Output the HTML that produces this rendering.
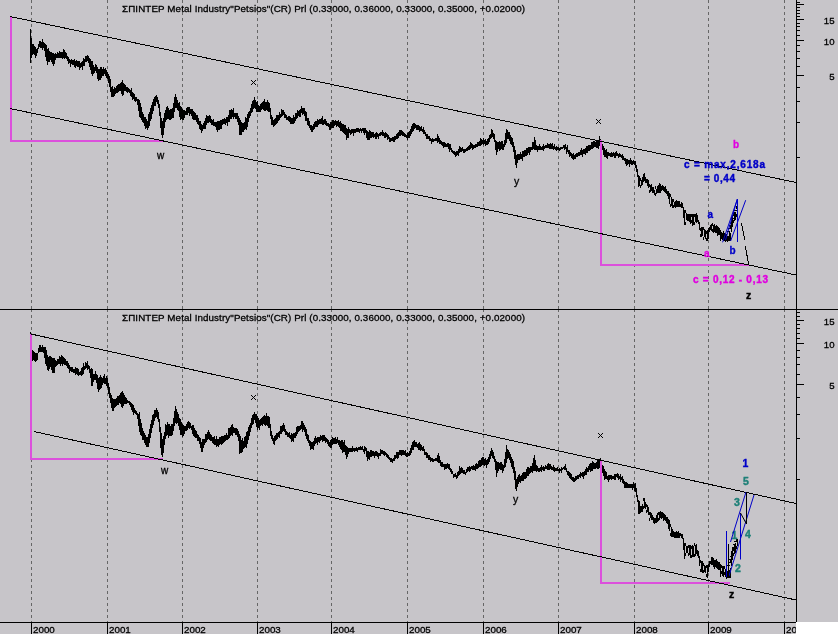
<!DOCTYPE html><html><head><meta charset="utf-8"><style>html,body{margin:0;padding:0;background:#c7c5c9;}svg{display:block;will-change:transform}text{font-family:"Liberation Sans",sans-serif} .t{stroke:#000;stroke-width:0.3}</style></head><body>
<svg width="838" height="634" viewBox="0 0 838 634">
<defs><clipPath id="axclip"><rect x="0" y="600" width="796" height="40"/></clipPath></defs>
<rect x="0" y="0" width="838" height="634" fill="#c7c5c9"/>
<rect x="796" y="622" width="42" height="12" fill="#ffffff"/>
<line x1="31.5" y1="0" x2="31.5" y2="309" stroke="#666" stroke-width="1" stroke-dasharray="3 3" shape-rendering="crispEdges"/>
<line x1="31.5" y1="309" x2="31.5" y2="622" stroke="#666" stroke-width="1" stroke-dasharray="3 3" shape-rendering="crispEdges"/>
<line x1="107.5" y1="0" x2="107.5" y2="309" stroke="#666" stroke-width="1" stroke-dasharray="3 3" shape-rendering="crispEdges"/>
<line x1="107.5" y1="309" x2="107.5" y2="622" stroke="#666" stroke-width="1" stroke-dasharray="3 3" shape-rendering="crispEdges"/>
<line x1="182.5" y1="0" x2="182.5" y2="309" stroke="#666" stroke-width="1" stroke-dasharray="3 3" shape-rendering="crispEdges"/>
<line x1="182.5" y1="309" x2="182.5" y2="622" stroke="#666" stroke-width="1" stroke-dasharray="3 3" shape-rendering="crispEdges"/>
<line x1="257.5" y1="0" x2="257.5" y2="309" stroke="#666" stroke-width="1" stroke-dasharray="3 3" shape-rendering="crispEdges"/>
<line x1="257.5" y1="309" x2="257.5" y2="622" stroke="#666" stroke-width="1" stroke-dasharray="3 3" shape-rendering="crispEdges"/>
<line x1="331.5" y1="0" x2="331.5" y2="309" stroke="#666" stroke-width="1" stroke-dasharray="3 3" shape-rendering="crispEdges"/>
<line x1="331.5" y1="309" x2="331.5" y2="622" stroke="#666" stroke-width="1" stroke-dasharray="3 3" shape-rendering="crispEdges"/>
<line x1="407.5" y1="0" x2="407.5" y2="309" stroke="#666" stroke-width="1" stroke-dasharray="3 3" shape-rendering="crispEdges"/>
<line x1="407.5" y1="309" x2="407.5" y2="622" stroke="#666" stroke-width="1" stroke-dasharray="3 3" shape-rendering="crispEdges"/>
<line x1="483.5" y1="0" x2="483.5" y2="309" stroke="#666" stroke-width="1" stroke-dasharray="3 3" shape-rendering="crispEdges"/>
<line x1="483.5" y1="309" x2="483.5" y2="622" stroke="#666" stroke-width="1" stroke-dasharray="3 3" shape-rendering="crispEdges"/>
<line x1="558.5" y1="0" x2="558.5" y2="309" stroke="#666" stroke-width="1" stroke-dasharray="3 3" shape-rendering="crispEdges"/>
<line x1="558.5" y1="309" x2="558.5" y2="622" stroke="#666" stroke-width="1" stroke-dasharray="3 3" shape-rendering="crispEdges"/>
<line x1="634.5" y1="0" x2="634.5" y2="309" stroke="#666" stroke-width="1" stroke-dasharray="3 3" shape-rendering="crispEdges"/>
<line x1="634.5" y1="309" x2="634.5" y2="622" stroke="#666" stroke-width="1" stroke-dasharray="3 3" shape-rendering="crispEdges"/>
<line x1="708.5" y1="0" x2="708.5" y2="309" stroke="#666" stroke-width="1" stroke-dasharray="3 3" shape-rendering="crispEdges"/>
<line x1="708.5" y1="309" x2="708.5" y2="622" stroke="#666" stroke-width="1" stroke-dasharray="3 3" shape-rendering="crispEdges"/>
<line x1="784.5" y1="0" x2="784.5" y2="309" stroke="#666" stroke-width="1" stroke-dasharray="3 3" shape-rendering="crispEdges"/>
<line x1="784.5" y1="309" x2="784.5" y2="622" stroke="#666" stroke-width="1" stroke-dasharray="3 3" shape-rendering="crispEdges"/>
<g shape-rendering="crispEdges" stroke="#000" stroke-width="1">
<line x1="0" y1="309.5" x2="838" y2="309.5"/>
<line x1="796.5" y1="0" x2="796.5" y2="622"/>
<line x1="0" y1="622.5" x2="796" y2="622.5"/>
<line x1="31.5" y1="622" x2="31.5" y2="634"/>
<line x1="107.5" y1="622" x2="107.5" y2="634"/>
<line x1="182.5" y1="622" x2="182.5" y2="634"/>
<line x1="257.5" y1="622" x2="257.5" y2="634"/>
<line x1="331.5" y1="622" x2="331.5" y2="634"/>
<line x1="407.5" y1="622" x2="407.5" y2="634"/>
<line x1="483.5" y1="622" x2="483.5" y2="634"/>
<line x1="558.5" y1="622" x2="558.5" y2="634"/>
<line x1="634.5" y1="622" x2="634.5" y2="634"/>
<line x1="708.5" y1="622" x2="708.5" y2="634"/>
<line x1="784.5" y1="622" x2="784.5" y2="634"/>
<line x1="797" y1="157.5" x2="800" y2="157.5"/>
<line x1="797" y1="122.5" x2="800" y2="122.5"/>
<line x1="797" y1="101.5" x2="800" y2="101.5"/>
<line x1="797" y1="87.5" x2="800" y2="87.5"/>
<line x1="797" y1="75.5" x2="804" y2="75.5"/>
<line x1="797" y1="66.5" x2="800" y2="66.5"/>
<line x1="797" y1="58.5" x2="800" y2="58.5"/>
<line x1="797" y1="51.5" x2="800" y2="51.5"/>
<line x1="797" y1="45.5" x2="800" y2="45.5"/>
<line x1="797" y1="40.5" x2="804" y2="40.5"/>
<line x1="797" y1="35.5" x2="800" y2="35.5"/>
<line x1="797" y1="30.5" x2="800" y2="30.5"/>
<line x1="797" y1="26.5" x2="800" y2="26.5"/>
<line x1="797" y1="23.5" x2="800" y2="23.5"/>
<line x1="797" y1="19.5" x2="804" y2="19.5"/>
<line x1="797" y1="16.5" x2="800" y2="16.5"/>
<line x1="797" y1="13.5" x2="800" y2="13.5"/>
<line x1="797" y1="10.5" x2="800" y2="10.5"/>
<line x1="797" y1="7.5" x2="800" y2="7.5"/>
<line x1="797" y1="4.5" x2="804" y2="4.5"/>
<line x1="797" y1="2.5" x2="800" y2="2.5"/>
<line x1="797" y1="479.5" x2="800" y2="479.5"/>
<line x1="797" y1="438.5" x2="800" y2="438.5"/>
<line x1="797" y1="414.5" x2="800" y2="414.5"/>
<line x1="797" y1="397.5" x2="800" y2="397.5"/>
<line x1="797" y1="384.5" x2="804" y2="384.5"/>
<line x1="797" y1="374.5" x2="800" y2="374.5"/>
<line x1="797" y1="364.5" x2="800" y2="364.5"/>
<line x1="797" y1="357.5" x2="800" y2="357.5"/>
<line x1="797" y1="350.5" x2="800" y2="350.5"/>
<line x1="797" y1="343.5" x2="804" y2="343.5"/>
<line x1="797" y1="338.5" x2="800" y2="338.5"/>
<line x1="797" y1="333.5" x2="800" y2="333.5"/>
<line x1="797" y1="328.5" x2="800" y2="328.5"/>
<line x1="797" y1="324.5" x2="800" y2="324.5"/>
<line x1="797" y1="320.5" x2="804" y2="320.5"/>
<line x1="797" y1="316.5" x2="800" y2="316.5"/>
<line x1="797" y1="312.5" x2="800" y2="312.5"/>
</g>
<text x="33" y="632.6" font-size="9.8" fill="#000" class="t" clip-path="url(#axclip)">2000</text>
<text x="109" y="632.6" font-size="9.8" fill="#000" class="t" clip-path="url(#axclip)">2001</text>
<text x="184" y="632.6" font-size="9.8" fill="#000" class="t" clip-path="url(#axclip)">2002</text>
<text x="259" y="632.6" font-size="9.8" fill="#000" class="t" clip-path="url(#axclip)">2003</text>
<text x="333" y="632.6" font-size="9.8" fill="#000" class="t" clip-path="url(#axclip)">2004</text>
<text x="409" y="632.6" font-size="9.8" fill="#000" class="t" clip-path="url(#axclip)">2005</text>
<text x="485" y="632.6" font-size="9.8" fill="#000" class="t" clip-path="url(#axclip)">2006</text>
<text x="560" y="632.6" font-size="9.8" fill="#000" class="t" clip-path="url(#axclip)">2007</text>
<text x="636" y="632.6" font-size="9.8" fill="#000" class="t" clip-path="url(#axclip)">2008</text>
<text x="710" y="632.6" font-size="9.8" fill="#000" class="t" clip-path="url(#axclip)">2009</text>
<text x="786" y="632.6" font-size="9.8" fill="#000" class="t" clip-path="url(#axclip)">20</text>
<text x="834.5" y="24" font-size="9.6" text-anchor="end" fill="#000" class="t">15</text>
<text x="834.5" y="45" font-size="9.6" text-anchor="end" fill="#000" class="t">10</text>
<text x="834.5" y="80" font-size="9.6" text-anchor="end" fill="#000" class="t">5</text>
<text x="834.5" y="325" font-size="9.6" text-anchor="end" fill="#000" class="t">15</text>
<text x="834.5" y="348" font-size="9.6" text-anchor="end" fill="#000" class="t">10</text>
<text x="834.5" y="389" font-size="9.6" text-anchor="end" fill="#000" class="t">5</text>
<text x="122" y="12" font-size="9.8" fill="#000" class="t" textLength="403" lengthAdjust="spacing">ΣΠΙΝΤΕΡ Metal Industry&quot;Petsios&quot;(CR) Prl (0.33000, 0.36000, 0.33000, 0.35000, +0.02000)</text>
<text x="122" y="321" font-size="9.8" fill="#000" class="t" textLength="403" lengthAdjust="spacing">ΣΠΙΝΤΕΡ Metal Industry&quot;Petsios&quot;(CR) Prl (0.33000, 0.36000, 0.33000, 0.35000, +0.02000)</text>
<path d="M30,29h1V63h-1ZM31,38h1V58h-1ZM32,44h1V55h-1ZM33,44h1V54h-1ZM34,46h1V55h-1ZM35,47h1V58h-1ZM36,49h1V56h-1ZM37,48h1V53h-1ZM38,44h1V49h-1ZM39,41h1V47h-1ZM40,41h1V48h-1ZM41,42h1V48h-1ZM42,39h1V50h-1ZM43,42h1V48h-1ZM44,43h1V51h-1ZM45,44h1V57h-1ZM46,45h1V61h-1ZM47,49h1V65h-1ZM48,48h1V62h-1ZM49,51h1V62h-1ZM50,52h1V60h-1ZM51,52h1V62h-1ZM52,53h1V64h-1ZM53,53h1V66h-1ZM54,54h1V64h-1ZM55,53h1V60h-1ZM56,54h1V58h-1ZM57,52h1V58h-1ZM58,53h1V58h-1ZM59,51h1V58h-1ZM60,52h1V58h-1ZM61,52h1V58h-1ZM62,52h1V59h-1ZM63,49h1V58h-1ZM64,50h1V59h-1ZM65,52h1V58h-1ZM66,53h1V59h-1ZM67,56h1V61h-1ZM68,57h1V64h-1ZM69,59h1V63h-1ZM70,60h1V67h-1ZM71,59h1V64h-1ZM72,60h1V65h-1ZM73,60h1V65h-1ZM74,59h1V67h-1ZM75,61h1V68h-1ZM76,60h1V66h-1ZM77,61h1V67h-1ZM78,61h1V67h-1ZM79,61h1V70h-1ZM80,63h1V68h-1ZM81,62h1V67h-1ZM82,61h1V70h-1ZM83,58h1V66h-1ZM84,59h1V66h-1ZM85,56h1V62h-1ZM86,56h1V62h-1ZM87,55h1V61h-1ZM88,56h1V63h-1ZM89,58h1V67h-1ZM90,59h1V70h-1ZM91,61h1V74h-1ZM92,61h1V76h-1ZM93,65h1V74h-1ZM94,67h1V73h-1ZM95,64h1V71h-1ZM96,65h1V73h-1ZM97,67h1V79h-1ZM98,69h1V81h-1ZM99,69h1V80h-1ZM100,67h1V80h-1ZM101,67h1V78h-1ZM102,69h1V76h-1ZM103,67h1V76h-1ZM104,69h1V74h-1ZM105,68h1V76h-1ZM106,70h1V78h-1ZM107,72h1V79h-1ZM108,74h1V83h-1ZM109,76h1V87h-1ZM110,79h1V92h-1ZM111,87h1V97h-1ZM112,86h1V97h-1ZM113,89h1V97h-1ZM114,87h1V96h-1ZM115,88h1V94h-1ZM116,86h1V93h-1ZM117,85h1V93h-1ZM118,84h1V92h-1ZM119,84h1V91h-1ZM120,83h1V91h-1ZM121,82h1V94h-1ZM122,80h1V96h-1ZM123,83h1V95h-1ZM124,84h1V91h-1ZM125,85h1V91h-1ZM126,87h1V92h-1ZM127,87h1V93h-1ZM128,88h1V92h-1ZM129,89h1V93h-1ZM130,90h1V96h-1ZM131,88h1V97h-1ZM132,92h1V100h-1ZM133,93h1V99h-1ZM134,94h1V101h-1ZM135,97h1V102h-1ZM136,97h1V101h-1ZM137,99h1V105h-1ZM138,99h1V111h-1ZM139,100h1V117h-1ZM140,103h1V118h-1ZM141,107h1V120h-1ZM142,112h1V122h-1ZM143,114h1V123h-1ZM144,117h1V126h-1ZM145,117h1V129h-1ZM146,119h1V128h-1ZM147,121h1V130h-1ZM148,114h1V128h-1ZM149,112h1V126h-1ZM150,108h1V121h-1ZM151,105h1V119h-1ZM152,102h1V114h-1ZM153,99h1V111h-1ZM154,97h1V106h-1ZM155,96h1V106h-1ZM156,95h1V102h-1ZM157,97h1V104h-1ZM158,100h1V108h-1ZM159,104h1V116h-1ZM160,112h1V128h-1ZM161,118h1V135h-1ZM162,121h1V138h-1ZM163,118h1V135h-1ZM164,113h1V128h-1ZM165,110h1V122h-1ZM166,107h1V120h-1ZM167,106h1V119h-1ZM168,108h1V119h-1ZM169,110h1V120h-1ZM170,109h1V120h-1ZM171,109h1V119h-1ZM172,108h1V118h-1ZM173,103h1V118h-1ZM174,97h1V112h-1ZM175,94h1V108h-1ZM176,97h1V108h-1ZM177,100h1V110h-1ZM178,103h1V111h-1ZM179,102h1V117h-1ZM180,106h1V120h-1ZM181,107h1V119h-1ZM182,109h1V120h-1ZM183,110h1V120h-1ZM184,110h1V118h-1ZM185,111h1V115h-1ZM186,108h1V115h-1ZM187,107h1V115h-1ZM188,107h1V113h-1ZM189,107h1V116h-1ZM190,109h1V114h-1ZM191,109h1V116h-1ZM192,109h1V119h-1ZM193,111h1V120h-1ZM194,112h1V120h-1ZM195,113h1V120h-1ZM196,115h1V122h-1ZM197,115h1V124h-1ZM198,118h1V125h-1ZM199,121h1V129h-1ZM200,121h1V130h-1ZM201,124h1V133h-1ZM202,125h1V131h-1ZM203,123h1V129h-1ZM204,121h1V129h-1ZM205,118h1V129h-1ZM206,115h1V125h-1ZM207,116h1V123h-1ZM208,116h1V123h-1ZM209,115h1V122h-1ZM210,116h1V123h-1ZM211,119h1V125h-1ZM212,120h1V125h-1ZM213,119h1V126h-1ZM214,122h1V126h-1ZM215,122h1V127h-1ZM216,122h1V130h-1ZM217,121h1V132h-1ZM218,121h1V130h-1ZM219,121h1V130h-1ZM220,120h1V129h-1ZM221,120h1V129h-1ZM222,119h1V125h-1ZM223,119h1V124h-1ZM224,118h1V124h-1ZM225,119h1V125h-1ZM226,117h1V123h-1ZM227,117h1V126h-1ZM228,115h1V122h-1ZM229,110h1V122h-1ZM230,110h1V119h-1ZM231,109h1V119h-1ZM232,110h1V117h-1ZM233,108h1V119h-1ZM234,113h1V117h-1ZM235,113h1V119h-1ZM236,113h1V119h-1ZM237,113h1V122h-1ZM238,116h1V125h-1ZM239,118h1V135h-1ZM240,120h1V135h-1ZM241,122h1V135h-1ZM242,123h1V132h-1ZM243,123h1V132h-1ZM244,122h1V130h-1ZM245,117h1V129h-1ZM246,118h1V130h-1ZM247,114h1V127h-1ZM248,112h1V122h-1ZM249,111h1V118h-1ZM250,108h1V116h-1ZM251,104h1V113h-1ZM252,101h1V112h-1ZM253,100h1V109h-1ZM254,97h1V108h-1ZM255,100h1V109h-1ZM256,102h1V112h-1ZM257,101h1V112h-1ZM258,105h1V112h-1ZM259,106h1V112h-1ZM260,104h1V112h-1ZM261,103h1V110h-1ZM262,102h1V109h-1ZM263,101h1V110h-1ZM264,99h1V111h-1ZM265,102h1V111h-1ZM266,102h1V110h-1ZM267,100h1V111h-1ZM268,102h1V112h-1ZM269,103h1V112h-1ZM270,108h1V119h-1ZM271,115h1V125h-1ZM272,117h1V125h-1ZM273,120h1V127h-1ZM274,119h1V126h-1ZM275,118h1V125h-1ZM276,115h1V124h-1ZM277,115h1V123h-1ZM278,115h1V121h-1ZM279,112h1V120h-1ZM280,114h1V118h-1ZM281,109h1V117h-1ZM282,110h1V116h-1ZM283,110h1V115h-1ZM284,112h1V118h-1ZM285,114h1V118h-1ZM286,115h1V120h-1ZM287,117h1V120h-1ZM288,116h1V121h-1ZM289,116h1V122h-1ZM290,117h1V124h-1ZM291,118h1V124h-1ZM292,118h1V124h-1ZM293,115h1V124h-1ZM294,117h1V123h-1ZM295,113h1V121h-1ZM296,113h1V119h-1ZM297,110h1V118h-1ZM298,111h1V116h-1ZM299,110h1V117h-1ZM300,109h1V117h-1ZM301,106h1V113h-1ZM302,108h1V115h-1ZM303,108h1V114h-1ZM304,108h1V116h-1ZM305,111h1V121h-1ZM306,112h1V121h-1ZM307,118h1V125h-1ZM308,118h1V126h-1ZM309,121h1V128h-1ZM310,125h1V130h-1ZM311,125h1V132h-1ZM312,126h1V132h-1ZM313,124h1V130h-1ZM314,122h1V129h-1ZM315,121h1V127h-1ZM316,121h1V127h-1ZM317,119h1V127h-1ZM318,120h1V125h-1ZM319,119h1V124h-1ZM320,119h1V124h-1ZM321,118h1V124h-1ZM322,116h1V125h-1ZM323,120h1V125h-1ZM324,119h1V124h-1ZM325,119h1V125h-1ZM326,121h1V126h-1ZM327,123h1V126h-1ZM328,123h1V127h-1ZM329,124h1V130h-1ZM330,122h1V130h-1ZM331,122h1V128h-1ZM332,120h1V128h-1ZM333,120h1V128h-1ZM334,121h1V126h-1ZM335,120h1V125h-1ZM336,121h1V127h-1ZM337,121h1V126h-1ZM338,120h1V127h-1ZM339,122h1V128h-1ZM340,121h1V131h-1ZM341,123h1V131h-1ZM342,124h1V132h-1ZM343,124h1V133h-1ZM344,125h1V134h-1ZM345,125h1V135h-1ZM346,128h1V140h-1ZM347,129h1V138h-1ZM348,127h1V138h-1ZM349,129h1V133h-1ZM350,130h1V135h-1ZM351,129h1V134h-1ZM352,129h1V133h-1ZM353,129h1V136h-1ZM354,129h1V133h-1ZM355,129h1V133h-1ZM356,128h1V132h-1ZM357,128h1V132h-1ZM358,128h1V132h-1ZM359,129h1V133h-1ZM360,128h1V131h-1ZM361,129h1V133h-1ZM362,128h1V131h-1ZM363,128h1V133h-1ZM364,128h1V135h-1ZM365,128h1V133h-1ZM366,130h1V138h-1ZM367,131h1V140h-1ZM368,132h1V140h-1ZM369,130h1V140h-1ZM370,131h1V138h-1ZM371,132h1V138h-1ZM372,132h1V137h-1ZM373,132h1V138h-1ZM374,134h1V137h-1ZM375,133h1V139h-1ZM376,132h1V139h-1ZM377,133h1V137h-1ZM378,134h1V139h-1ZM379,133h1V136h-1ZM380,132h1V136h-1ZM381,132h1V135h-1ZM382,130h1V136h-1ZM383,132h1V136h-1ZM384,133h1V138h-1ZM385,132h1V138h-1ZM386,133h1V137h-1ZM387,134h1V140h-1ZM388,135h1V139h-1ZM389,137h1V142h-1ZM390,138h1V142h-1ZM391,138h1V141h-1ZM392,137h1V141h-1ZM393,137h1V142h-1ZM394,136h1V142h-1ZM395,136h1V140h-1ZM396,134h1V139h-1ZM397,133h1V139h-1ZM398,132h1V138h-1ZM399,130h1V136h-1ZM400,130h1V136h-1ZM401,130h1V135h-1ZM402,131h1V136h-1ZM403,132h1V136h-1ZM404,133h1V137h-1ZM405,134h1V137h-1ZM406,135h1V138h-1ZM407,133h1V140h-1ZM408,132h1V138h-1ZM409,131h1V138h-1ZM410,129h1V136h-1ZM411,126h1V134h-1ZM412,124h1V132h-1ZM413,123h1V131h-1ZM414,123h1V129h-1ZM415,124h1V128h-1ZM416,125h1V130h-1ZM417,125h1V130h-1ZM418,125h1V130h-1ZM419,126h1V132h-1ZM420,127h1V131h-1ZM421,126h1V131h-1ZM422,129h1V132h-1ZM423,127h1V134h-1ZM424,130h1V134h-1ZM425,132h1V136h-1ZM426,134h1V139h-1ZM427,134h1V139h-1ZM428,136h1V139h-1ZM429,136h1V141h-1ZM430,138h1V141h-1ZM431,139h1V144h-1ZM432,138h1V142h-1ZM433,139h1V142h-1ZM434,139h1V141h-1ZM435,138h1V141h-1ZM436,138h1V141h-1ZM437,134h1V143h-1ZM438,136h1V142h-1ZM439,138h1V144h-1ZM440,140h1V144h-1ZM441,141h1V145h-1ZM442,142h1V146h-1ZM443,142h1V148h-1ZM444,142h1V147h-1ZM445,143h1V147h-1ZM446,144h1V147h-1ZM447,143h1V147h-1ZM448,143h1V149h-1ZM449,144h1V152h-1ZM450,144h1V150h-1ZM451,148h1V152h-1ZM452,150h1V153h-1ZM453,151h1V154h-1ZM454,151h1V155h-1ZM455,152h1V157h-1ZM456,151h1V156h-1ZM457,151h1V155h-1ZM458,149h1V156h-1ZM459,146h1V153h-1ZM460,147h1V152h-1ZM461,148h1V152h-1ZM462,147h1V151h-1ZM463,149h1V153h-1ZM464,149h1V153h-1ZM465,149h1V152h-1ZM466,148h1V151h-1ZM467,147h1V151h-1ZM468,146h1V150h-1ZM469,145h1V150h-1ZM470,142h1V149h-1ZM471,143h1V148h-1ZM472,144h1V150h-1ZM473,145h1V149h-1ZM474,145h1V148h-1ZM475,144h1V148h-1ZM476,144h1V147h-1ZM477,142h1V147h-1ZM478,142h1V146h-1ZM479,141h1V146h-1ZM480,138h1V146h-1ZM481,139h1V145h-1ZM482,140h1V144h-1ZM483,138h1V145h-1ZM484,140h1V144h-1ZM485,139h1V146h-1ZM486,141h1V145h-1ZM487,139h1V145h-1ZM488,138h1V144h-1ZM489,135h1V142h-1ZM490,134h1V139h-1ZM491,129h1V138h-1ZM492,130h1V137h-1ZM493,133h1V139h-1ZM494,134h1V142h-1ZM495,140h1V150h-1ZM496,141h1V155h-1ZM497,142h1V152h-1ZM498,142h1V149h-1ZM499,141h1V151h-1ZM500,142h1V150h-1ZM501,141h1V149h-1ZM502,141h1V150h-1ZM503,144h1V150h-1ZM504,140h1V147h-1ZM505,133h1V145h-1ZM506,129h1V143h-1ZM507,130h1V139h-1ZM508,132h1V139h-1ZM509,132h1V141h-1ZM510,135h1V144h-1ZM511,137h1V145h-1ZM512,138h1V147h-1ZM513,142h1V152h-1ZM514,146h1V159h-1ZM515,150h1V165h-1ZM516,155h1V168h-1ZM517,154h1V163h-1ZM518,154h1V160h-1ZM519,154h1V160h-1ZM520,152h1V159h-1ZM521,154h1V159h-1ZM522,151h1V161h-1ZM523,151h1V157h-1ZM524,150h1V157h-1ZM525,150h1V156h-1ZM526,148h1V156h-1ZM527,148h1V155h-1ZM528,147h1V153h-1ZM529,147h1V155h-1ZM530,147h1V152h-1ZM531,147h1V150h-1ZM532,142h1V150h-1ZM533,142h1V149h-1ZM534,137h1V150h-1ZM535,140h1V150h-1ZM536,145h1V150h-1ZM537,146h1V152h-1ZM538,146h1V150h-1ZM539,144h1V150h-1ZM540,146h1V150h-1ZM541,147h1V150h-1ZM542,146h1V150h-1ZM543,144h1V151h-1ZM544,146h1V149h-1ZM545,145h1V148h-1ZM546,145h1V148h-1ZM547,143h1V148h-1ZM548,144h1V148h-1ZM549,144h1V149h-1ZM550,143h1V149h-1ZM551,144h1V149h-1ZM552,143h1V149h-1ZM553,146h1V150h-1ZM554,144h1V149h-1ZM555,147h1V150h-1ZM556,146h1V151h-1ZM557,147h1V150h-1ZM558,147h1V150h-1ZM559,148h1V151h-1ZM560,147h1V150h-1ZM561,147h1V149h-1ZM562,147h1V149h-1ZM563,145h1V148h-1ZM564,145h1V150h-1ZM565,144h1V149h-1ZM566,147h1V154h-1ZM567,145h1V152h-1ZM568,150h1V154h-1ZM569,150h1V157h-1ZM570,152h1V156h-1ZM571,153h1V158h-1ZM572,154h1V159h-1ZM573,153h1V160h-1ZM574,155h1V159h-1ZM575,154h1V159h-1ZM576,153h1V157h-1ZM577,153h1V157h-1ZM578,152h1V156h-1ZM579,152h1V156h-1ZM580,150h1V155h-1ZM581,148h1V155h-1ZM582,150h1V157h-1ZM583,149h1V154h-1ZM584,149h1V154h-1ZM585,148h1V155h-1ZM586,146h1V153h-1ZM587,146h1V153h-1ZM588,145h1V151h-1ZM589,145h1V151h-1ZM590,145h1V150h-1ZM591,142h1V149h-1ZM592,142h1V149h-1ZM593,141h1V148h-1ZM594,141h1V147h-1ZM595,142h1V147h-1ZM596,140h1V148h-1ZM597,140h1V148h-1ZM598,140h1V149h-1ZM599,136h1V146h-1ZM600,139h1V147h-1ZM601,142h1V148h-1ZM602,144h1V150h-1ZM603,146h1V155h-1ZM604,148h1V157h-1ZM605,150h1V157h-1ZM606,149h1V158h-1ZM607,152h1V159h-1ZM608,152h1V156h-1ZM609,153h1V156h-1ZM610,153h1V157h-1ZM611,152h1V157h-1ZM612,153h1V157h-1ZM613,152h1V156h-1ZM614,153h1V158h-1ZM615,152h1V158h-1ZM616,151h1V156h-1ZM617,153h1V156h-1ZM618,154h1V158h-1ZM619,153h1V157h-1ZM620,154h1V157h-1ZM621,155h1V158h-1ZM622,154h1V160h-1ZM623,156h1V160h-1ZM624,158h1V161h-1ZM625,158h1V164h-1ZM626,159h1V166h-1ZM627,159h1V165h-1ZM628,160h1V164h-1ZM629,160h1V167h-1ZM630,158h1V164h-1ZM631,160h1V165h-1ZM632,161h1V165h-1ZM633,160h1V164h-1ZM634,161h1V165h-1ZM635,161h1V168h-1ZM636,165h1V172h-1ZM637,169h1V177h-1ZM638,175h1V187h-1ZM639,176h1V186h-1ZM640,178h1v3h-1ZM640,185h1v3h-1ZM641,180h1V186h-1ZM642,177h1V185h-1ZM643,174h1V182h-1ZM644,173h1V181h-1ZM645,177h1V183h-1ZM646,179h1V183h-1ZM647,179h1V186h-1ZM648,180h1V188h-1ZM649,184h1v3h-1ZM649,190h1v3h-1ZM650,185h1V192h-1ZM651,184h1V191h-1ZM652,187h1V193h-1ZM653,187h1V193h-1ZM654,190h1V195h-1ZM655,186h1v3h-1ZM655,193h1v3h-1ZM656,189h1V194h-1ZM657,186h1V193h-1ZM658,185h1V193h-1ZM659,183h1V193h-1ZM660,184h1V193h-1ZM661,186h1V191h-1ZM662,185h1V190h-1ZM663,186h1V191h-1ZM664,187h1V192h-1ZM665,186h1V193h-1ZM666,189h1V194h-1ZM667,191h1V196h-1ZM668,191h1V199h-1ZM669,193h1V204h-1ZM670,194h1v3h-1ZM670,204h1v3h-1ZM671,197h1V206h-1ZM672,199h1V208h-1ZM673,199h1v3h-1ZM673,205h1v3h-1ZM674,202h1V207h-1ZM675,201h1V208h-1ZM676,200h1V207h-1ZM677,201h1V207h-1ZM678,201h1V207h-1ZM679,201h1V207h-1ZM680,204h1V207h-1ZM681,202h1V208h-1ZM682,203h1V208h-1ZM683,207h1V218h-1ZM684,210h1V225h-1ZM685,210h1v3h-1ZM685,222h1v3h-1ZM686,213h1V220h-1ZM687,214h1V221h-1ZM688,214h1V221h-1ZM689,214h1V222h-1ZM690,214h1V224h-1ZM691,214h1v3h-1ZM691,220h1v3h-1ZM692,214h1V226h-1ZM693,214h1V225h-1ZM694,214h1v3h-1ZM694,222h1v3h-1ZM695,214h1V222h-1ZM696,213h1V223h-1ZM697,215h1V222h-1ZM698,220h1V224h-1ZM699,222h1V230h-1ZM700,228h1v3h-1ZM700,234h1v3h-1ZM701,227h1V237h-1ZM702,227h1V236h-1ZM703,227h1v3h-1ZM703,237h1v3h-1ZM704,229h1V237h-1ZM705,230h1V239h-1ZM706,231h1v3h-1ZM706,238h1v3h-1ZM707,230h1V241h-1ZM708,228h1V239h-1ZM709,227h1V232h-1ZM710,225h1V230h-1ZM711,224h1V231h-1ZM712,223h1v3h-1ZM712,229h1v3h-1ZM713,225h1V233h-1ZM714,224h1V232h-1ZM715,226h1V233h-1ZM716,225h1V233h-1ZM717,226h1V236h-1ZM718,227h1V235h-1ZM719,228h1V235h-1ZM720,230h1V236h-1ZM721,232h1V239h-1ZM722,233h1V240h-1ZM723,233h1V240h-1ZM724,233h1V241h-1ZM725,234h1V242h-1ZM726,234h1V241h-1ZM727,236h1V242h-1ZM728,236h1V241h-1ZM729,232h1V240h-1ZM730,225h1v3h-1ZM730,233h1v3h-1ZM731,217h1V232h-1ZM732,216h1V227h-1ZM733,213h1v3h-1ZM733,220h1v3h-1ZM734,212h1V221h-1ZM735,212h1V220h-1ZM736,206h1v3h-1ZM736,214h1v3h-1ZM737,209h1V216h-1Z" fill="#000" shape-rendering="crispEdges"/>
<path d="M30,332h1V369h-1ZM31,343h1V364h-1ZM32,350h1V361h-1ZM33,351h1V360h-1ZM34,352h1V361h-1ZM35,353h1V362h-1ZM36,353h1V361h-1ZM37,353h1V360h-1ZM38,348h1V353h-1ZM39,345h1V352h-1ZM40,345h1V352h-1ZM41,347h1V352h-1ZM42,345h1V352h-1ZM43,347h1V353h-1ZM44,347h1V358h-1ZM45,347h1V364h-1ZM46,350h1V366h-1ZM47,355h1V370h-1ZM48,357h1V371h-1ZM49,356h1V369h-1ZM50,356h1V367h-1ZM51,357h1V370h-1ZM52,358h1V373h-1ZM53,358h1V373h-1ZM54,358h1V373h-1ZM55,360h1V367h-1ZM56,361h1V366h-1ZM57,359h1V365h-1ZM58,359h1V364h-1ZM59,356h1V364h-1ZM60,357h1V366h-1ZM61,355h1V364h-1ZM62,356h1V366h-1ZM63,357h1V364h-1ZM64,358h1V365h-1ZM65,359h1V365h-1ZM66,361h1V366h-1ZM67,361h1V368h-1ZM68,363h1V369h-1ZM69,365h1V373h-1ZM70,367h1V371h-1ZM71,367h1V372h-1ZM72,367h1V372h-1ZM73,369h1V373h-1ZM74,369h1V373h-1ZM75,367h1V375h-1ZM76,368h1V374h-1ZM77,368h1V375h-1ZM78,369h1V376h-1ZM79,372h1V375h-1ZM80,371h1V375h-1ZM81,368h1V376h-1ZM82,367h1V375h-1ZM83,363h1V374h-1ZM84,366h1V370h-1ZM85,362h1V369h-1ZM86,363h1V368h-1ZM87,361h1V370h-1ZM88,365h1V369h-1ZM89,366h1V373h-1ZM90,369h1V378h-1ZM91,368h1V386h-1ZM92,369h1V386h-1ZM93,374h1V382h-1ZM94,374h1V380h-1ZM95,371h1V380h-1ZM96,374h1V383h-1ZM97,375h1V389h-1ZM98,378h1V392h-1ZM99,377h1V390h-1ZM100,375h1V389h-1ZM101,377h1V388h-1ZM102,378h1V385h-1ZM103,376h1V383h-1ZM104,374h1V384h-1ZM105,378h1V384h-1ZM106,376h1V386h-1ZM107,378h1V388h-1ZM108,383h1V394h-1ZM109,387h1V398h-1ZM110,393h1V403h-1ZM111,395h1V408h-1ZM112,398h1V411h-1ZM113,399h1V411h-1ZM114,399h1V408h-1ZM115,399h1V407h-1ZM116,398h1V406h-1ZM117,396h1V405h-1ZM118,396h1V405h-1ZM119,395h1V403h-1ZM120,393h1V404h-1ZM121,392h1V407h-1ZM122,391h1V408h-1ZM123,393h1V406h-1ZM124,395h1V404h-1ZM125,397h1V404h-1ZM126,398h1V404h-1ZM127,400h1V403h-1ZM128,401h1V403h-1ZM129,401h1V405h-1ZM130,402h1V407h-1ZM131,403h1V410h-1ZM132,404h1V412h-1ZM133,405h1V415h-1ZM134,408h1V413h-1ZM135,410h1V414h-1ZM136,411h1V415h-1ZM137,413h1V419h-1ZM138,414h1V426h-1ZM139,412h1V432h-1ZM140,419h1V435h-1ZM141,423h1V436h-1ZM142,428h1V440h-1ZM143,431h1V440h-1ZM144,433h1V443h-1ZM145,435h1V445h-1ZM146,437h1V447h-1ZM147,437h1V447h-1ZM148,434h1V447h-1ZM149,429h1V443h-1ZM150,424h1V438h-1ZM151,420h1V433h-1ZM152,415h1V428h-1ZM153,414h1V425h-1ZM154,410h1V421h-1ZM155,410h1V418h-1ZM156,408h1V417h-1ZM157,410h1V419h-1ZM158,412h1V422h-1ZM159,419h1V432h-1ZM160,427h1V448h-1ZM161,433h1V455h-1ZM162,439h1V457h-1ZM163,436h1V453h-1ZM164,432h1V445h-1ZM165,424h1V439h-1ZM166,425h1V436h-1ZM167,422h1V435h-1ZM168,424h1V438h-1ZM169,424h1V436h-1ZM170,426h1V436h-1ZM171,424h1V436h-1ZM172,424h1V435h-1ZM173,418h1V431h-1ZM174,411h1V426h-1ZM175,406h1V423h-1ZM176,409h1V424h-1ZM177,412h1V423h-1ZM178,414h1V426h-1ZM179,418h1V430h-1ZM180,419h1V435h-1ZM181,422h1V435h-1ZM182,424h1V437h-1ZM183,425h1V436h-1ZM184,426h1V434h-1ZM185,426h1V431h-1ZM186,424h1V431h-1ZM187,422h1V430h-1ZM188,421h1V428h-1ZM189,422h1V429h-1ZM190,423h1V428h-1ZM191,426h1V430h-1ZM192,425h1V434h-1ZM193,425h1V436h-1ZM194,428h1V437h-1ZM195,430h1V438h-1ZM196,431h1V438h-1ZM197,434h1V441h-1ZM198,435h1V441h-1ZM199,437h1V444h-1ZM200,438h1V448h-1ZM201,442h1V452h-1ZM202,439h1V452h-1ZM203,439h1V448h-1ZM204,439h1V445h-1ZM205,434h1V443h-1ZM206,434h1V442h-1ZM207,432h1V440h-1ZM208,430h1V439h-1ZM209,432h1V440h-1ZM210,434h1V441h-1ZM211,435h1V441h-1ZM212,437h1V443h-1ZM213,437h1V444h-1ZM214,436h1V445h-1ZM215,439h1V445h-1ZM216,436h1V447h-1ZM217,439h1V446h-1ZM218,439h1V447h-1ZM219,437h1V445h-1ZM220,437h1V444h-1ZM221,436h1V445h-1ZM222,436h1V444h-1ZM223,436h1V443h-1ZM224,435h1V442h-1ZM225,435h1V441h-1ZM226,433h1V440h-1ZM227,435h1V440h-1ZM228,428h1V439h-1ZM229,428h1V438h-1ZM230,427h1V436h-1ZM231,425h1V435h-1ZM232,424h1V436h-1ZM233,427h1V433h-1ZM234,428h1V433h-1ZM235,428h1V435h-1ZM236,428h1V435h-1ZM237,429h1V437h-1ZM238,431h1V441h-1ZM239,434h1V454h-1ZM240,436h1V453h-1ZM241,440h1V453h-1ZM242,438h1V452h-1ZM243,441h1V449h-1ZM244,437h1V448h-1ZM245,436h1V447h-1ZM246,432h1V448h-1ZM247,431h1V444h-1ZM248,427h1V440h-1ZM249,425h1V436h-1ZM250,423h1V432h-1ZM251,418h1V428h-1ZM252,415h1V425h-1ZM253,414h1V424h-1ZM254,412h1V420h-1ZM255,414h1V423h-1ZM256,414h1V427h-1ZM257,416h1V430h-1ZM258,418h1V428h-1ZM259,420h1V430h-1ZM260,419h1V426h-1ZM261,418h1V425h-1ZM262,417h1V426h-1ZM263,416h1V424h-1ZM264,415h1V425h-1ZM265,416h1V426h-1ZM266,413h1V425h-1ZM267,416h1V426h-1ZM268,416h1V428h-1ZM269,417h1V428h-1ZM270,424h1V436h-1ZM271,431h1V439h-1ZM272,435h1V441h-1ZM273,438h1V444h-1ZM274,436h1V445h-1ZM275,435h1V441h-1ZM276,433h1V440h-1ZM277,433h1V439h-1ZM278,432h1V437h-1ZM279,431h1V438h-1ZM280,426h1V434h-1ZM281,426h1V434h-1ZM282,425h1V432h-1ZM283,423h1V431h-1ZM284,425h1V432h-1ZM285,429h1V435h-1ZM286,431h1V435h-1ZM287,432h1V437h-1ZM288,433h1V437h-1ZM289,432h1V438h-1ZM290,435h1V439h-1ZM291,433h1V442h-1ZM292,434h1V441h-1ZM293,433h1V442h-1ZM294,433h1V438h-1ZM295,432h1V438h-1ZM296,427h1V436h-1ZM297,426h1V434h-1ZM298,426h1V432h-1ZM299,426h1V431h-1ZM300,425h1V430h-1ZM301,421h1V429h-1ZM302,421h1V432h-1ZM303,423h1V430h-1ZM304,425h1V432h-1ZM305,427h1V436h-1ZM306,429h1V439h-1ZM307,434h1V441h-1ZM308,435h1V443h-1ZM309,440h1V446h-1ZM310,441h1V450h-1ZM311,442h1V449h-1ZM312,442h1V449h-1ZM313,441h1V450h-1ZM314,438h1V446h-1ZM315,436h1V444h-1ZM316,438h1V443h-1ZM317,437h1V445h-1ZM318,437h1V442h-1ZM319,437h1V443h-1ZM320,435h1V441h-1ZM321,436h1V440h-1ZM322,435h1V442h-1ZM323,435h1V441h-1ZM324,435h1V441h-1ZM325,437h1V443h-1ZM326,438h1V442h-1ZM327,439h1V444h-1ZM328,440h1V446h-1ZM329,442h1V447h-1ZM330,440h1V448h-1ZM331,439h1V448h-1ZM332,437h1V445h-1ZM333,438h1V444h-1ZM334,438h1V444h-1ZM335,437h1V444h-1ZM336,439h1V444h-1ZM337,437h1V443h-1ZM338,440h1V445h-1ZM339,440h1V447h-1ZM340,441h1V449h-1ZM341,440h1V450h-1ZM342,440h1V453h-1ZM343,442h1V452h-1ZM344,440h1V452h-1ZM345,445h1V455h-1ZM346,446h1V459h-1ZM347,447h1V457h-1ZM348,448h1V454h-1ZM349,448h1V452h-1ZM350,448h1V452h-1ZM351,448h1V452h-1ZM352,446h1V452h-1ZM353,448h1V451h-1ZM354,448h1V452h-1ZM355,448h1V451h-1ZM356,447h1V451h-1ZM357,448h1V452h-1ZM358,447h1V450h-1ZM359,447h1V450h-1ZM360,446h1V450h-1ZM361,447h1V450h-1ZM362,446h1V450h-1ZM363,449h1V452h-1ZM364,446h1V454h-1ZM365,447h1V451h-1ZM366,448h1V457h-1ZM367,451h1V461h-1ZM368,451h1V459h-1ZM369,452h1V460h-1ZM370,450h1V457h-1ZM371,450h1V457h-1ZM372,451h1V456h-1ZM373,451h1V456h-1ZM374,452h1V458h-1ZM375,451h1V456h-1ZM376,451h1V456h-1ZM377,452h1V457h-1ZM378,453h1V459h-1ZM379,453h1V456h-1ZM380,449h1V456h-1ZM381,450h1V454h-1ZM382,450h1V454h-1ZM383,451h1V455h-1ZM384,451h1V456h-1ZM385,452h1V455h-1ZM386,453h1V457h-1ZM387,454h1V458h-1ZM388,455h1V459h-1ZM389,457h1V460h-1ZM390,458h1V462h-1ZM391,458h1V462h-1ZM392,459h1V463h-1ZM393,458h1V461h-1ZM394,455h1V461h-1ZM395,455h1V459h-1ZM396,452h1V458h-1ZM397,452h1V459h-1ZM398,452h1V458h-1ZM399,450h1V455h-1ZM400,450h1V455h-1ZM401,450h1V456h-1ZM402,450h1V455h-1ZM403,450h1V455h-1ZM404,451h1V455h-1ZM405,450h1V456h-1ZM406,453h1V457h-1ZM407,452h1V457h-1ZM408,453h1V456h-1ZM409,451h1V456h-1ZM410,448h1V455h-1ZM411,445h1V453h-1ZM412,442h1V450h-1ZM413,441h1V450h-1ZM414,440h1V447h-1ZM415,442h1V447h-1ZM416,442h1V447h-1ZM417,444h1V448h-1ZM418,443h1V450h-1ZM419,442h1V450h-1ZM420,444h1V451h-1ZM421,445h1V450h-1ZM422,447h1V451h-1ZM423,446h1V451h-1ZM424,449h1V455h-1ZM425,452h1V455h-1ZM426,452h1V458h-1ZM427,453h1V458h-1ZM428,455h1V460h-1ZM429,455h1V460h-1ZM430,457h1V462h-1ZM431,458h1V461h-1ZM432,458h1V462h-1ZM433,459h1V462h-1ZM434,459h1V461h-1ZM435,458h1V461h-1ZM436,458h1V461h-1ZM437,455h1V462h-1ZM438,453h1V463h-1ZM439,456h1V463h-1ZM440,460h1V466h-1ZM441,462h1V467h-1ZM442,462h1V467h-1ZM443,464h1V467h-1ZM444,464h1V470h-1ZM445,464h1V469h-1ZM446,464h1V469h-1ZM447,463h1V468h-1ZM448,464h1V469h-1ZM449,464h1V470h-1ZM450,468h1V472h-1ZM451,469h1V474h-1ZM452,471h1V474h-1ZM453,474h1V478h-1ZM454,474h1V477h-1ZM455,473h1V477h-1ZM456,475h1V479h-1ZM457,472h1V478h-1ZM458,471h1V476h-1ZM459,466h1V475h-1ZM460,468h1V474h-1ZM461,467h1V473h-1ZM462,468h1V473h-1ZM463,470h1V474h-1ZM464,470h1V474h-1ZM465,472h1V475h-1ZM466,469h1V473h-1ZM467,467h1V472h-1ZM468,467h1V471h-1ZM469,466h1V472h-1ZM470,467h1V471h-1ZM471,466h1V469h-1ZM472,466h1V470h-1ZM473,465h1V470h-1ZM474,466h1V470h-1ZM475,464h1V471h-1ZM476,463h1V469h-1ZM477,464h1V469h-1ZM478,461h1V468h-1ZM479,460h1V467h-1ZM480,460h1V467h-1ZM481,458h1V466h-1ZM482,457h1V465h-1ZM483,457h1V465h-1ZM484,459h1V466h-1ZM485,458h1V465h-1ZM486,460h1V468h-1ZM487,459h1V465h-1ZM488,457h1V464h-1ZM489,454h1V462h-1ZM490,451h1V459h-1ZM491,448h1V456h-1ZM492,450h1V458h-1ZM493,452h1V459h-1ZM494,456h1V462h-1ZM495,459h1V470h-1ZM496,461h1V477h-1ZM497,462h1V473h-1ZM498,462h1V471h-1ZM499,463h1V469h-1ZM500,462h1V470h-1ZM501,462h1V470h-1ZM502,464h1V473h-1ZM503,465h1V471h-1ZM504,459h1V468h-1ZM505,452h1V467h-1ZM506,445h1V463h-1ZM507,449h1V459h-1ZM508,450h1V458h-1ZM509,452h1V460h-1ZM510,454h1V463h-1ZM511,457h1V467h-1ZM512,459h1V469h-1ZM513,461h1V473h-1ZM514,467h1V480h-1ZM515,471h1V489h-1ZM516,479h1V491h-1ZM517,477h1V487h-1ZM518,475h1V484h-1ZM519,474h1V482h-1ZM520,476h1V483h-1ZM521,475h1V481h-1ZM522,473h1V481h-1ZM523,472h1V481h-1ZM524,472h1V479h-1ZM525,472h1V479h-1ZM526,469h1V478h-1ZM527,467h1V476h-1ZM528,467h1V476h-1ZM529,468h1V474h-1ZM530,466h1V473h-1ZM531,466h1V472h-1ZM532,463h1V473h-1ZM533,458h1V471h-1ZM534,455h1V471h-1ZM535,460h1V471h-1ZM536,465h1V472h-1ZM537,466h1V471h-1ZM538,468h1V472h-1ZM539,468h1V472h-1ZM540,467h1V471h-1ZM541,465h1V472h-1ZM542,467h1V470h-1ZM543,466h1V471h-1ZM544,467h1V471h-1ZM545,465h1V469h-1ZM546,466h1V469h-1ZM547,464h1V470h-1ZM548,463h1V470h-1ZM549,464h1V470h-1ZM550,464h1V469h-1ZM551,466h1V470h-1ZM552,467h1V470h-1ZM553,465h1V471h-1ZM554,467h1V472h-1ZM555,468h1V471h-1ZM556,468h1V471h-1ZM557,467h1V471h-1ZM558,469h1V471h-1ZM559,468h1V473h-1ZM560,469h1V471h-1ZM561,467h1V473h-1ZM562,468h1V470h-1ZM563,467h1V469h-1ZM564,466h1V470h-1ZM565,464h1V470h-1ZM566,468h1V472h-1ZM567,471h1V475h-1ZM568,471h1V476h-1ZM569,472h1V478h-1ZM570,473h1V479h-1ZM571,474h1V480h-1ZM572,477h1V481h-1ZM573,477h1V482h-1ZM574,478h1V482h-1ZM575,476h1V481h-1ZM576,476h1V480h-1ZM577,475h1V479h-1ZM578,475h1V479h-1ZM579,474h1V477h-1ZM580,472h1V478h-1ZM581,473h1V476h-1ZM582,472h1V477h-1ZM583,472h1V479h-1ZM584,471h1V476h-1ZM585,469h1V475h-1ZM586,467h1V475h-1ZM587,468h1V472h-1ZM588,466h1V472h-1ZM589,464h1V470h-1ZM590,463h1V472h-1ZM591,463h1V471h-1ZM592,461h1V471h-1ZM593,462h1V469h-1ZM594,463h1V469h-1ZM595,463h1V469h-1ZM596,462h1V468h-1ZM597,460h1V469h-1ZM598,460h1V469h-1ZM599,460h1V468h-1ZM600,458h1V468h-1ZM601,463h1V469h-1ZM602,465h1V473h-1ZM603,466h1V476h-1ZM604,469h1V480h-1ZM605,471h1V479h-1ZM606,472h1V479h-1ZM607,476h1V480h-1ZM608,475h1V482h-1ZM609,475h1V480h-1ZM610,475h1V479h-1ZM611,475h1V480h-1ZM612,476h1V479h-1ZM613,476h1V479h-1ZM614,474h1V480h-1ZM615,474h1V480h-1ZM616,474h1V477h-1ZM617,473h1V478h-1ZM618,474h1V480h-1ZM619,476h1V479h-1ZM620,474h1V482h-1ZM621,477h1V480h-1ZM622,476h1V483h-1ZM623,479h1V484h-1ZM624,481h1V488h-1ZM625,482h1V488h-1ZM626,482h1V488h-1ZM627,483h1V488h-1ZM628,484h1V488h-1ZM629,484h1V488h-1ZM630,484h1V488h-1ZM631,484h1V488h-1ZM632,484h1V490h-1ZM633,482h1V488h-1ZM634,484h1V491h-1ZM635,483h1V492h-1ZM636,488h1V497h-1ZM637,495h1V502h-1ZM638,500h1V514h-1ZM639,501h1V514h-1ZM640,506h1V513h-1ZM641,506h1V512h-1ZM642,504h1V512h-1ZM643,498h1v3h-1ZM643,506h1v3h-1ZM644,498h1V508h-1ZM645,502h1V509h-1ZM646,504h1v3h-1ZM646,510h1v3h-1ZM647,505h1V512h-1ZM648,507h1V515h-1ZM649,512h1v3h-1ZM649,518h1v3h-1ZM650,512h1V518h-1ZM651,513h1V520h-1ZM652,515h1V520h-1ZM653,517h1V523h-1ZM654,518h1V524h-1ZM655,518h1V523h-1ZM656,515h1V523h-1ZM657,513h1V522h-1ZM658,512h1v3h-1ZM658,518h1v3h-1ZM659,512h1V520h-1ZM660,511h1V518h-1ZM661,512h1V519h-1ZM662,512h1V518h-1ZM663,513h1V521h-1ZM664,514h1V520h-1ZM665,515h1V521h-1ZM666,517h1V523h-1ZM667,517h1V524h-1ZM668,519h1V529h-1ZM669,520h1V531h-1ZM670,524h1v3h-1ZM670,533h1v3h-1ZM671,527h1V537h-1ZM672,529h1V537h-1ZM673,531h1V537h-1ZM674,532h1V538h-1ZM675,532h1V538h-1ZM676,531h1V538h-1ZM677,532h1V538h-1ZM678,531h1V538h-1ZM679,533h1V538h-1ZM680,533h1V536h-1ZM681,534h1V538h-1ZM682,534h1V539h-1ZM683,538h1V550h-1ZM684,543h1V559h-1ZM685,543h1v3h-1ZM685,553h1v3h-1ZM686,546h1V553h-1ZM687,546h1V553h-1ZM688,545h1v3h-1ZM688,553h1v3h-1ZM689,545h1V555h-1ZM690,545h1V558h-1ZM691,546h1v3h-1ZM691,555h1v3h-1ZM692,545h1V557h-1ZM693,546h1V557h-1ZM694,543h1v3h-1ZM694,554h1v3h-1ZM695,545h1V556h-1ZM696,544h1V554h-1ZM697,550h1V556h-1ZM698,551h1V558h-1ZM699,556h1V566h-1ZM700,560h1v3h-1ZM700,569h1v3h-1ZM701,561h1V572h-1ZM702,561h1V573h-1ZM703,563h1v3h-1ZM703,570h1v3h-1ZM704,565h1V572h-1ZM705,566h1V573h-1ZM706,565h1v3h-1ZM706,574h1v3h-1ZM707,565h1V578h-1ZM708,564h1V572h-1ZM709,561h1V567h-1ZM710,561h1V564h-1ZM711,557h1V565h-1ZM712,557h1V565h-1ZM713,558h1V567h-1ZM714,560h1V569h-1ZM715,560h1V567h-1ZM716,559h1V568h-1ZM717,561h1V569h-1ZM718,562h1V570h-1ZM719,562h1V570h-1ZM720,564h1V572h-1ZM721,565h1v3h-1ZM721,571h1v3h-1ZM722,566h1V576h-1ZM723,567h1V576h-1ZM724,566h1v3h-1ZM724,572h1v3h-1ZM725,569h1V577h-1ZM726,570h1V579h-1ZM727,572h1V578h-1ZM728,571h1V576h-1ZM729,570h1V577h-1ZM730,559h1v3h-1ZM730,568h1v3h-1ZM731,551h1V566h-1ZM732,548h1V560h-1ZM733,547h1v3h-1ZM733,553h1v3h-1ZM734,544h1V554h-1ZM735,543h1V553h-1ZM736,539h1v3h-1ZM736,546h1v3h-1ZM737,539h1V546h-1Z" fill="#000" shape-rendering="crispEdges"/>
<path d="M734,541h3v1h-3ZM733,544h3v1h-3ZM732,547h3v1h-3ZM732,550h3v1h-3ZM731,553h3v1h-3ZM730,556h3v1h-3ZM729,559h3v1h-3ZM728,562h3v1h-3ZM727,565h3v1h-3ZM726,571h5V578h-5ZM720,564h1V577h-1ZM723,566h1V577h-1Z" fill="#000" shape-rendering="crispEdges"/>
<path d="M734,210h3v1h-3ZM733,212h3v1h-3ZM732,215h3v1h-3ZM732,218h3v1h-3ZM731,220h3v1h-3ZM730,223h3v1h-3ZM729,225h3v1h-3ZM728,228h3v1h-3ZM727,231h3v1h-3ZM726,236h5V241h-5ZM720,230h1V241h-1ZM723,231h1V241h-1Z" fill="#000" shape-rendering="crispEdges"/>
<g fill="#dc50dc" shape-rendering="crispEdges">
<rect x="10" y="16" width="2" height="126"/><rect x="10" y="140" width="153" height="2"/>
<rect x="600" y="140" width="2" height="126"/><rect x="600" y="264" width="149" height="2"/>
<rect x="30" y="334" width="2" height="126"/><rect x="30" y="458" width="133" height="2"/>
<rect x="600" y="460" width="2" height="124"/><rect x="600" y="582" width="130" height="2"/>
</g>
<g shape-rendering="crispEdges" stroke="#000" stroke-width="1" fill="none">
<line x1="10" y1="16.5" x2="796" y2="182.5"/>
<line x1="10" y1="108.5" x2="796" y2="275"/>
<line x1="31" y1="334" x2="796" y2="503.5"/>
<line x1="34" y1="431.5" x2="796" y2="600"/>
</g>
<path d="M251,80h1v1h-1ZM255,80h1v1h-1ZM252,81h1v1h-1ZM254,81h1v1h-1ZM253,82h1v1h-1ZM253,82h1v1h-1ZM254,83h1v1h-1ZM252,83h1v1h-1ZM255,84h1v1h-1ZM251,84h1v1h-1Z" fill="#000" shape-rendering="crispEdges"/>
<path d="M596,119h1v1h-1ZM600,119h1v1h-1ZM597,120h1v1h-1ZM599,120h1v1h-1ZM598,121h1v1h-1ZM598,121h1v1h-1ZM599,122h1v1h-1ZM597,122h1v1h-1ZM600,123h1v1h-1ZM596,123h1v1h-1Z" fill="#000" shape-rendering="crispEdges"/>
<path d="M251,395h1v1h-1ZM255,395h1v1h-1ZM252,396h1v1h-1ZM254,396h1v1h-1ZM253,397h1v1h-1ZM253,397h1v1h-1ZM254,398h1v1h-1ZM252,398h1v1h-1ZM255,399h1v1h-1ZM251,399h1v1h-1Z" fill="#000" shape-rendering="crispEdges"/>
<path d="M598,433h1v1h-1ZM602,433h1v1h-1ZM599,434h1v1h-1ZM601,434h1v1h-1ZM600,435h1v1h-1ZM600,435h1v1h-1ZM601,436h1v1h-1ZM599,436h1v1h-1ZM602,437h1v1h-1ZM598,437h1v1h-1Z" fill="#000" shape-rendering="crispEdges"/>
<text x="157" y="158.5" font-size="10" fill="#000" class="t" text-anchor="start">w</text>
<text x="514" y="185" font-size="10.5" fill="#000" class="t" text-anchor="start">y</text>
<text x="161" y="474" font-size="10" fill="#000" class="t" text-anchor="start">w</text>
<text x="513" y="503" font-size="10.5" fill="#000" class="t" text-anchor="start">y</text>
<text x="746" y="299" font-size="10.5" fill="#000" font-weight="bold" stroke="#000" stroke-width="0.4" text-anchor="start">z</text>
<text x="729" y="598" font-size="10.5" fill="#000" font-weight="bold" stroke="#000" stroke-width="0.4" text-anchor="start">z</text>
<text x="684" y="167.5" font-size="10" fill="#0000c8" font-weight="bold" stroke="#0000c8" stroke-width="0.4" text-anchor="start" textLength="81" lengthAdjust="spacing">c = max,2,618a</text>
<text x="704" y="181.5" font-size="10" fill="#0000c8" font-weight="bold" stroke="#0000c8" stroke-width="0.4" text-anchor="start" textLength="31" lengthAdjust="spacing">= 0,44</text>
<text x="733" y="148" font-size="10" fill="#e000e0" font-weight="bold" stroke="#e000e0" stroke-width="0.3" text-anchor="start">b</text>
<text x="707.5" y="217.5" font-size="10" fill="#0000c8" font-weight="bold" stroke="#0000c8" stroke-width="0.3" text-anchor="start">a</text>
<text x="704" y="257" font-size="10" fill="#e000e0" font-weight="bold" stroke="#e000e0" stroke-width="0.3" text-anchor="start">a</text>
<text x="729.5" y="253.5" font-size="10" fill="#0000c8" font-weight="bold" stroke="#0000c8" stroke-width="0.3" text-anchor="start">b</text>
<text x="693" y="282.5" font-size="10" fill="#e000e0" font-weight="bold" stroke="#e000e0" stroke-width="0.4" text-anchor="start" textLength="75" lengthAdjust="spacing">c = 0,12 - 0,13</text>
<text x="742.5" y="466.5" font-size="10.5" fill="#0000c8" font-weight="bold" stroke="#0000c8" stroke-width="0.4" text-anchor="start">1</text>
<text x="743" y="485.3" font-size="10.5" fill="#1f8078" font-weight="bold" stroke="#1f8078" stroke-width="0.4" text-anchor="start">5</text>
<text x="734" y="505.5" font-size="10.5" fill="#1f8078" font-weight="bold" stroke="#1f8078" stroke-width="0.4" text-anchor="start">3</text>
<text x="731.5" y="538.7" font-size="10.5" fill="#1f8078" font-weight="bold" stroke="#1f8078" stroke-width="0.4" text-anchor="start">1</text>
<text x="745" y="537.8" font-size="10.5" fill="#1f8078" font-weight="bold" stroke="#1f8078" stroke-width="0.4" text-anchor="start">4</text>
<text x="735" y="571.8" font-size="10.5" fill="#1f8078" font-weight="bold" stroke="#1f8078" stroke-width="0.4" text-anchor="start">2</text>
<g stroke="#0000c8" stroke-width="1" fill="none">
<line x1="737.5" y1="199" x2="737.5" y2="242"/>
<line x1="737.4" y1="199" x2="722.6" y2="242.3"/>
<line x1="737.4" y1="199" x2="725.5" y2="240"/>
<line x1="745.7" y1="200.2" x2="730.6" y2="241"/>
</g>
<g stroke="#000" stroke-width="1" fill="none" shape-rendering="crispEdges"><line x1="741.5" y1="223" x2="744.8" y2="240.4"/><line x1="745.3" y1="246.5" x2="748.7" y2="264.5"/></g>
<g stroke="#0000c8" stroke-width="1" fill="none">
<line x1="726.5" y1="531" x2="726.5" y2="577"/>
<line x1="740.5" y1="513" x2="740.5" y2="559.5"/>
<line x1="746" y1="492" x2="730.5" y2="542"/>
<line x1="754" y1="495" x2="729" y2="576"/>
</g>
<g stroke="#000" stroke-width="1" fill="none"><line x1="728.5" y1="544" x2="728.5" y2="577"/><polyline points="740.5,513 746.5,524 746.5,492"/></g>
</svg></body></html>
